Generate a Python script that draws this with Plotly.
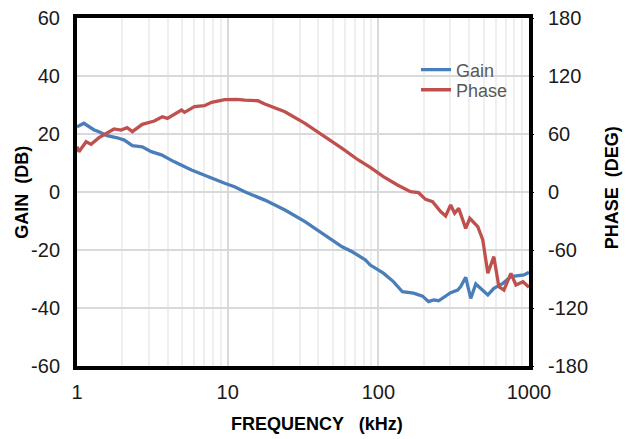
import plotly.graph_objects as go

# ---- data ----
gain_freq = [1.0, 1.11, 1.30, 1.40, 1.58, 1.85, 2.06, 2.33, 2.71, 3.11, 3.63, 4.43, 5.75, 7.36,
             9.55, 11.1, 12.98, 17.65, 24.0, 32.6, 44.3, 57.5, 67.1, 81.9, 88.4, 108, 125.9,
             144.5, 171.2, 196.6, 215.4, 232.6, 251.2, 302, 336.2, 352.2, 380.2, 410.6, 443.4,
             478.6, 533, 584.4, 670.8, 758.6, 844.7, 926.3, 1000]
gain_db = [22.5, 23.7, 21.4, 20.8, 19.4, 18.7, 17.9, 16.0, 15.6, 13.9, 12.8, 10.4, 7.6, 5.3,
           3.0, 1.8, 0.1, -2.8, -6.2, -10.2, -14.8, -18.9, -20.6, -23.4, -25.2, -28.0, -30.9,
           -34.4, -34.9, -35.9, -37.8, -37.2, -37.5, -34.7, -33.8, -32.6, -29.4, -36.7, -31.7,
           -33.2, -35.5, -33.2, -31.5, -29.2, -29.0, -28.6, -27.7]

phase_freq = [1.0, 1.03, 1.15, 1.24, 1.40, 1.51, 1.76, 1.96, 2.15, 2.33, 2.51, 2.71, 3.26, 3.68,
              3.98, 4.94, 5.17, 6.02, 7.02, 7.82, 9.55, 11.5, 13.0, 15.85, 17.65, 24.0, 32.6,
              44.3, 57.5, 73.6, 88.4, 108, 133.9, 163.5, 184.8, 205.8, 229.1, 259, 279.6, 302,
              321, 341.5, 380.2, 404.5, 457.1, 493.6, 533, 584.4, 631, 681.3, 758.6, 819.3,
              912, 1000]
phase_deg = [46.9, 41.7, 52.0, 49.3, 56.2, 59.0, 65.2, 64.1, 66.5, 62.4, 65.9, 70.0, 73.4, 77.9,
             76.2, 84.8, 82.4, 88.3, 89.3, 92.8, 95.5, 95.9, 95.0, 94.4, 91.0, 83.0, 71.0,
             57.2, 45.2, 33.1, 25.5, 15.9, 7.2, 0.3, -0.7, -7.6, -10.0, -20.3, -24.8, -13.4,
             -22.0, -16.9, -37.6, -27.2, -35.9, -49.7, -84.1, -66.9, -98.0, -101.4, -84.1, -96.2,
             -92.8, -98.6]

x_ticks = [1, 10, 100, 1000]
x_minor = [m * d for d in (1, 10, 100) for m in range(2, 10)]
gain_ticks = [-60, -40, -20, 0, 20, 40, 60]
phase_ticks = [-180, -120, -60, 0, 60, 120, 180]

FONT = "Liberation Sans, Arial, sans-serif"
BLUE = "#4a7ebb"
RED = "#c0504d"
TICK_SIZE = 20
TICK_COLOR = "#1a1a1a"

fig = go.Figure()
fig.add_trace(go.Scatter(x=gain_freq, y=gain_db, name="Gain", mode="lines",
                         line=dict(color=BLUE, width=3.3), legend="legend"))
fig.add_trace(go.Scatter(x=phase_freq, y=phase_deg, name="Phase", mode="lines",
                         line=dict(color=RED, width=3.3), yaxis="y2", legend="legend2"))

legend_common = dict(xanchor="left", yanchor="middle", bgcolor="rgba(0,0,0,0)", borderwidth=0,
                     font=dict(family=FONT, size=18, color="#595959"), itemwidth=30)

# The page body has an 8px margin, so the figure is sized 8px smaller and left/top margins shifted.
fig.update_layout(
    width=628, height=431,
    margin=dict(l=69, r=107, t=10, b=73, autoexpand=False),
    paper_bgcolor="white", plot_bgcolor="white",
    font=dict(family=FONT, size=18, color=TICK_COLOR),
    showlegend=True,
    legend=dict(x=0.750, y=0.851, **legend_common),
    legend2=dict(x=0.750, y=0.793, **legend_common),
    xaxis=dict(type="log", range=[0, 3], tickvals=x_ticks, ticktext=[str(v) for v in x_ticks],
               showgrid=True, gridcolor="#d9d9d9", gridwidth=2,
               minor=dict(tickvals=x_minor, showgrid=True, gridcolor="#efefef", gridwidth=2, ticks=""),
               showline=True, linecolor="black", linewidth=4, mirror=True, automargin=False,
               ticks="", ticklabelstandoff=5, zeroline=False, ticklabeloverflow="allow",
               tickfont=dict(size=TICK_SIZE, color=TICK_COLOR)),
    yaxis=dict(range=[-60, 60], tickvals=gain_ticks, ticktext=[str(v) for v in gain_ticks],
               showgrid=True, gridcolor="#d9d9d9", gridwidth=2,
               showline=True, linecolor="black", linewidth=4, mirror=True, automargin=False,
               ticks="", ticklabelstandoff=9, zeroline=False, ticklabeloverflow="allow",
               tickfont=dict(size=TICK_SIZE, color=TICK_COLOR)),
    yaxis2=dict(range=[-180, 180], tickvals=phase_ticks, ticktext=[str(v) for v in phase_ticks],
                overlaying="y", side="right", automargin=False,
                showgrid=False, zeroline=False, showline=False,
                ticks="outside", ticklen=4, tickcolor="black", tickwidth=1,
                ticklabelstandoff=10, ticklabeloverflow="allow",
                tickfont=dict(size=TICK_SIZE, color=TICK_COLOR)),
    shapes=[
        dict(type="rect", xref="paper", yref="paper", x0=0.704, x1=0.991, y0=0.764, y1=0.899,
             fillcolor="white", line=dict(width=0), layer="between"),
    ],
    annotations=[
        dict(text="<b>FREQUENCY   (kHz)</b>", xref="paper", yref="paper",
             x=0.532, y=-0.167, xanchor="center", yanchor="middle", showarrow=False,
             font=dict(family=FONT, size=18, color="#000000")),
        dict(text="<b>GAIN  (DB)</b>", xref="paper", yref="paper",
             x=-0.122, y=0.50, xanchor="center", yanchor="middle", showarrow=False, textangle=-90,
             font=dict(family=FONT, size=18, color="#000000")),
        dict(text="<b>PHASE  (DEG)</b>", xref="paper", yref="paper",
             x=1.184, y=0.511, xanchor="center", yanchor="middle", showarrow=False, textangle=-90,
             font=dict(family=FONT, size=18, color="#000000")),
    ],
)

fig.write_html("out.html")
